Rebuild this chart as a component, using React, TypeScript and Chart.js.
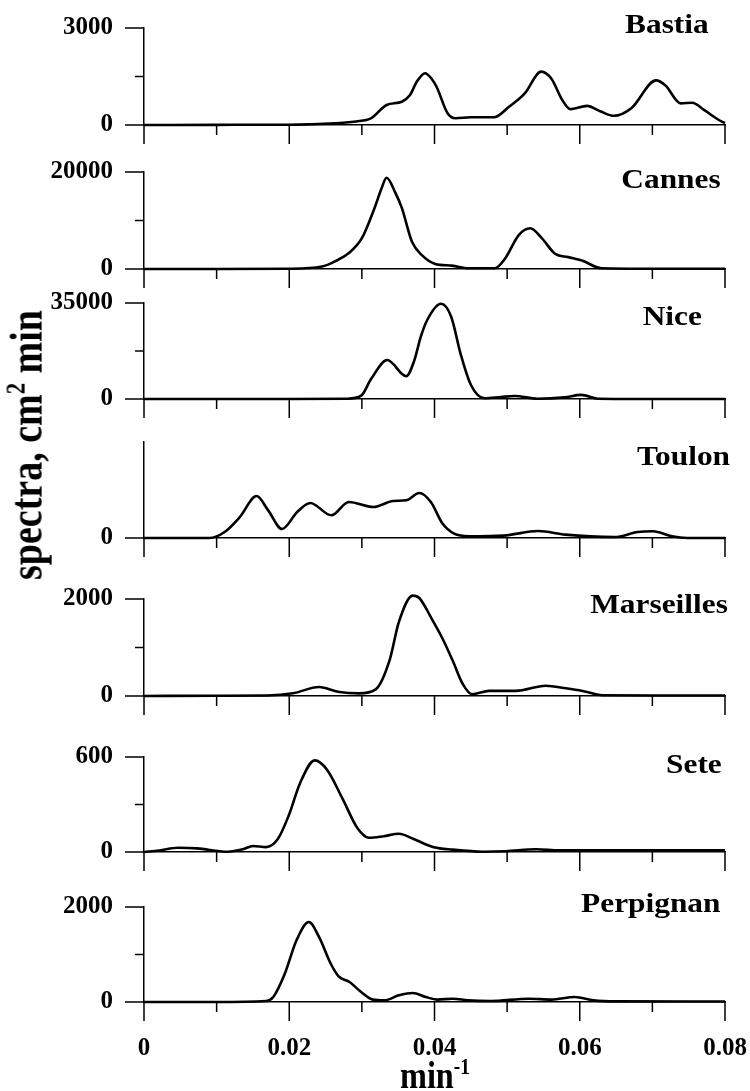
import React, { useEffect, useRef } from 'react';
import { Chart, registerables } from 'chart.js';

Chart.register(...registerables);

// ---------- data ----------
const stations = ['Bastia', 'Cannes', 'Nice', 'Toulon', 'Marseilles', 'Sete', 'Perpignan'];
const yMaxValues = [3000, 20000, 35000, 4000, 2000, 600, 2000];
const yTopLabels = ['3000', '20000', '35000', '', '2000', '600', '2000'];
const xTickValues = [0, 0.01, 0.02, 0.03, 0.04, 0.05, 0.06, 0.07, 0.08];
const xTickLabels = ['0', '', '0.02', '', '0.04', '', '0.06', '', '0.08'];

const bastiaFreq = [0, 0.01, 0.02, 0.0224, 0.0292, 0.0313, 0.0334, 0.0355, 0.0366, 0.0376, 0.0387, 0.0396, 0.0403, 0.0418, 0.0429, 0.045, 0.0482, 0.0503, 0.0524, 0.0547, 0.0561, 0.0576, 0.0587, 0.061, 0.0629, 0.0647, 0.0671, 0.0705, 0.0718, 0.0739, 0.0755, 0.0771, 0.0795, 0.08];
const bastiaSpec = [0, 5, 10, 20, 110, 213, 620, 720, 920, 1350, 1600, 1430, 1175, 365, 210, 240, 240, 570, 970, 1650, 1430, 770, 490, 590, 415, 285, 520, 1380, 1225, 670, 690, 466, 110, 60];

const cannesFreq = [0, 0.01, 0.02, 0.0245, 0.0263, 0.0282, 0.03, 0.0318, 0.0327, 0.0334, 0.0346, 0.0355, 0.0369, 0.0383, 0.0401, 0.0424, 0.0447, 0.0483, 0.0497, 0.0516, 0.0532, 0.0548, 0.0566, 0.0584, 0.0603, 0.063, 0.07, 0.08];
const cannesSpec = [0, 0, 50, 500, 1570, 3280, 6350, 12800, 16600, 18800, 15750, 12600, 5600, 2800, 1050, 700, 140, 140, 2100, 7000, 8400, 6300, 3150, 2450, 1750, 140, 50, 50];

const niceFreq = [0, 0.02, 0.028, 0.0299, 0.0313, 0.0335, 0.0361, 0.0372, 0.0381, 0.039, 0.0409, 0.0423, 0.0436, 0.045, 0.0469, 0.0491, 0.051, 0.0542, 0.0579, 0.0602, 0.0625, 0.07, 0.08];
const niceSpec = [0, 0, 100, 1200, 7430, 14200, 8300, 13900, 22600, 28800, 34700, 30000, 16400, 5200, 250, 700, 1100, 100, 600, 1500, 100, 0, 0];

const toulonFreq = [0, 0.009, 0.0111, 0.0132, 0.0155, 0.0171, 0.019, 0.0211, 0.0229, 0.0258, 0.0282, 0.0316, 0.0343, 0.0361, 0.0379, 0.0395, 0.0411, 0.0427, 0.0448, 0.0495, 0.0543, 0.058, 0.0648, 0.068, 0.0701, 0.0727, 0.0748, 0.08];
const toulonSpec = [0, 0, 250, 875, 1750, 1150, 375, 1085, 1460, 945, 1500, 1290, 1540, 1570, 1875, 1500, 600, 180, 70, 100, 290, 140, 40, 250, 280, 70, 0, 0];

const marsFreq = [0, 0.01, 0.017, 0.0205, 0.0241, 0.0269, 0.0296, 0.0319, 0.0338, 0.0351, 0.037, 0.0379, 0.0397, 0.0411, 0.0425, 0.0439, 0.0452, 0.0475, 0.0512, 0.0553, 0.0581, 0.0604, 0.0631, 0.07, 0.08];
const marsSpec = [0, 5, 10, 55, 185, 82, 55, 137, 730, 1530, 2070, 2020, 1570, 1185, 730, 245, 35, 105, 105, 210, 160, 105, 14, 10, 10];

const seteFreq = [0, 0.0021, 0.0047, 0.0073, 0.0115, 0.0136, 0.015, 0.0168, 0.0184, 0.0199, 0.0215, 0.0235, 0.0252, 0.0273, 0.0294, 0.031, 0.033, 0.0351, 0.0372, 0.0399, 0.0425, 0.0467, 0.0498, 0.054, 0.0572, 0.0624, 0.08];
const seteSpec = [0, 10, 27, 23, 2, 17, 38, 31, 80, 227, 436, 579, 520, 340, 150, 90, 100, 115, 80, 30, 15, 2, 5, 17, 10, 10, 10];

const perpFreq = [0, 0.01, 0.0168, 0.0178, 0.0194, 0.021, 0.0227, 0.0241, 0.0257, 0.0268, 0.0283, 0.0299, 0.0315, 0.0331, 0.0351, 0.037, 0.0388, 0.0404, 0.0425, 0.0446, 0.0477, 0.053, 0.0561, 0.0593, 0.0619, 0.0651, 0.08];
const perpSpec = [0, 0, 20, 105, 600, 1300, 1685, 1370, 810, 540, 420, 210, 50, 35, 140, 190, 105, 50, 70, 35, 20, 70, 50, 105, 35, 14, 10];

const freqs = [bastiaFreq, cannesFreq, niceFreq, toulonFreq, marsFreq, seteFreq, perpFreq];
const specs = [bastiaSpec, cannesSpec, niceSpec, toulonSpec, marsSpec, seteSpec, perpSpec];

// ---------- layout ----------
const PLOT_LEFT = 144;
const PLOT_RIGHT = 725;
const PAD_TOP = 16;
const panelTops = [28, 172, 303, 442, 599, 757, 907];
const panelZeros = [125, 269, 399, 538, 696, 852, 1002];
const titleBaselines = [33, 188, 325, 465, 613, 773, 912];
const titleRights = [709, 721, 702, 730, 728, 722, 720];
const FONT = '"Liberation Serif", "Times New Roman", serif';

function zeroPadding(s: any) {
  s.paddingTop = 0;
  s.paddingBottom = 0;
  s.paddingLeft = 0;
  s.paddingRight = 0;
}

function Panel({ idx }: { idx: number }) {
  const ref = useRef<HTMLCanvasElement>(null);
  const last = idx === stations.length - 1;
  const bottomH = last ? 70 : 24;
  const plotH = panelZeros[idx] - panelTops[idx];
  const H = PAD_TOP + plotH + bottomH;

  useEffect(() => {
    const max = yMaxValues[idx];
    const hasTop = yTopLabels[idx] !== '';
    const yMarks: [number, number][] = hasTop
      ? [[0, 19], [max / 2, 9], [max, 19]]
      : [[0, 19]];
    const tickMarks = {
      id: 'tickMarks',
      afterDraw(chart: any) {
        const { ctx, chartArea, scales } = chart;
        ctx.save();
        ctx.strokeStyle = '#000';
        ctx.lineWidth = 1.5;
        ctx.beginPath();
        xTickValues.forEach((v, k) => {
          const px = scales.x.getPixelForValue(v);
          const len = k % 2 === 0 ? 19 : 10;
          ctx.moveTo(px, chartArea.bottom);
          ctx.lineTo(px, chartArea.bottom + len);
        });
        yMarks.forEach(([v, len]) => {
          const py = scales.y.getPixelForValue(v);
          ctx.moveTo(chartArea.left - len, py);
          ctx.lineTo(chartArea.left, py);
        });
        ctx.stroke();
        ctx.restore();
      },
    };
    const tickFont = { family: FONT, weight: 'bold' as const, size: 25 };
    const chart = new Chart(ref.current as HTMLCanvasElement, {
      type: 'line',
      data: {
        datasets: [
          {
            data: freqs[idx].map((f, j) => ({ x: f, y: specs[idx][j] })),
            borderColor: '#000',
            borderWidth: 2.6,
            pointRadius: 0,
            fill: false,
            clip: 12,
            cubicInterpolationMode: 'monotone',
          },
        ],
      },
      options: {
        animation: false,
        responsive: false,
        maintainAspectRatio: false,
        layout: { padding: { top: PAD_TOP, right: 750 - PLOT_RIGHT, left: 0, bottom: 0 } },
        plugins: { legend: { display: false }, tooltip: { enabled: false } },
        scales: {
          x: {
            type: 'linear',
            min: 0,
            max: 0.08,
            afterBuildTicks: (s: any) => {
              s.ticks = xTickValues.map((v) => ({ value: v }));
            },
            afterFit: (s: any) => {
              s.height = bottomH;
              zeroPadding(s);
            },
            grid: { display: false, drawTicks: true, tickLength: 19 },
            border: { display: true, color: '#000', width: 1.5 },
            ticks: {
              color: '#000',
              font: tickFont,
              padding: 13,
              maxRotation: 0,
              autoSkip: false,
              callback: (_v: any, i: number) => (last ? xTickLabels[i] : ''),
            },
          },
          y: {
            type: 'linear',
            min: 0,
            max: max,
            afterBuildTicks: (s: any) => {
              s.ticks = (hasTop ? [0, max / 2, max] : [0]).map((v) => ({ value: v }));
            },
            afterFit: (s: any) => {
              s.width = PLOT_LEFT;
              zeroPadding(s);
            },
            grid: { display: false, drawTicks: true, tickLength: 19 },
            border: { display: true, color: '#000', width: 1.5 },
            ticks: {
              color: '#000',
              font: tickFont,
              padding: 12,
              autoSkip: false,
              callback: (v: any) => (v === 0 ? '0' : v === max ? yTopLabels[idx] : ''),
            },
          },
        },
      },
      plugins: [tickMarks],
    } as any);
    return () => chart.destroy();
  }, []);

  return (
    <canvas
      ref={ref}
      width={750}
      height={H}
      style={{ position: 'absolute', left: 0, top: panelTops[idx] - PAD_TOP, width: 750, height: H }}
    />
  );
}

export default function App() {
  const titleSize = 28;
  return (
    <div style={{ position: 'absolute', left: 0, top: 0, width: 750, height: 1091, overflow: 'hidden', background: '#fff' }}>
      {stations.map((_, i) => (
        <Panel key={i} idx={i} />
      ))}
      {stations.map((name, i) => (
        <div
          key={'t' + i}
          style={{
            position: 'absolute',
            right: 750 - titleRights[i],
            top: titleBaselines[i] - 0.8375 * titleSize,
            fontFamily: FONT,
            fontWeight: 'bold',
            fontSize: titleSize,
            lineHeight: 1,
            whiteSpace: 'nowrap',
            transform: 'scaleX(1.12)',
            transformOrigin: 'right center',
            color: '#000',
          }}
        >
          {name}
        </div>
      ))}
      <div
        style={{
          position: 'absolute',
          left: 3,
          top: 580,
          fontFamily: FONT,
          fontWeight: 'bold',
          fontSize: 38,
          lineHeight: 1,
          whiteSpace: 'nowrap',
          transform: 'rotate(-90deg) scale(1, 1.2)',
          transformOrigin: '0 0',
          color: '#000',
        }}
      >
        spectra, cm<sup style={{ fontSize: '0.6em', lineHeight: 0 }}>2</sup> min
      </div>
      <div
        style={{
          position: 'absolute',
          left: 335,
          width: 200,
          top: 1088 - 0.8375 * 38,
          textAlign: 'center',
          fontFamily: FONT,
          fontWeight: 'bold',
          fontSize: 38,
          lineHeight: 1,
          whiteSpace: 'nowrap',
          transform: 'scaleX(0.85)',
          color: '#000',
        }}
      >
        min<sup style={{ fontSize: '0.6em', lineHeight: 0 }}>-1</sup>
      </div>
    </div>
  );
}
